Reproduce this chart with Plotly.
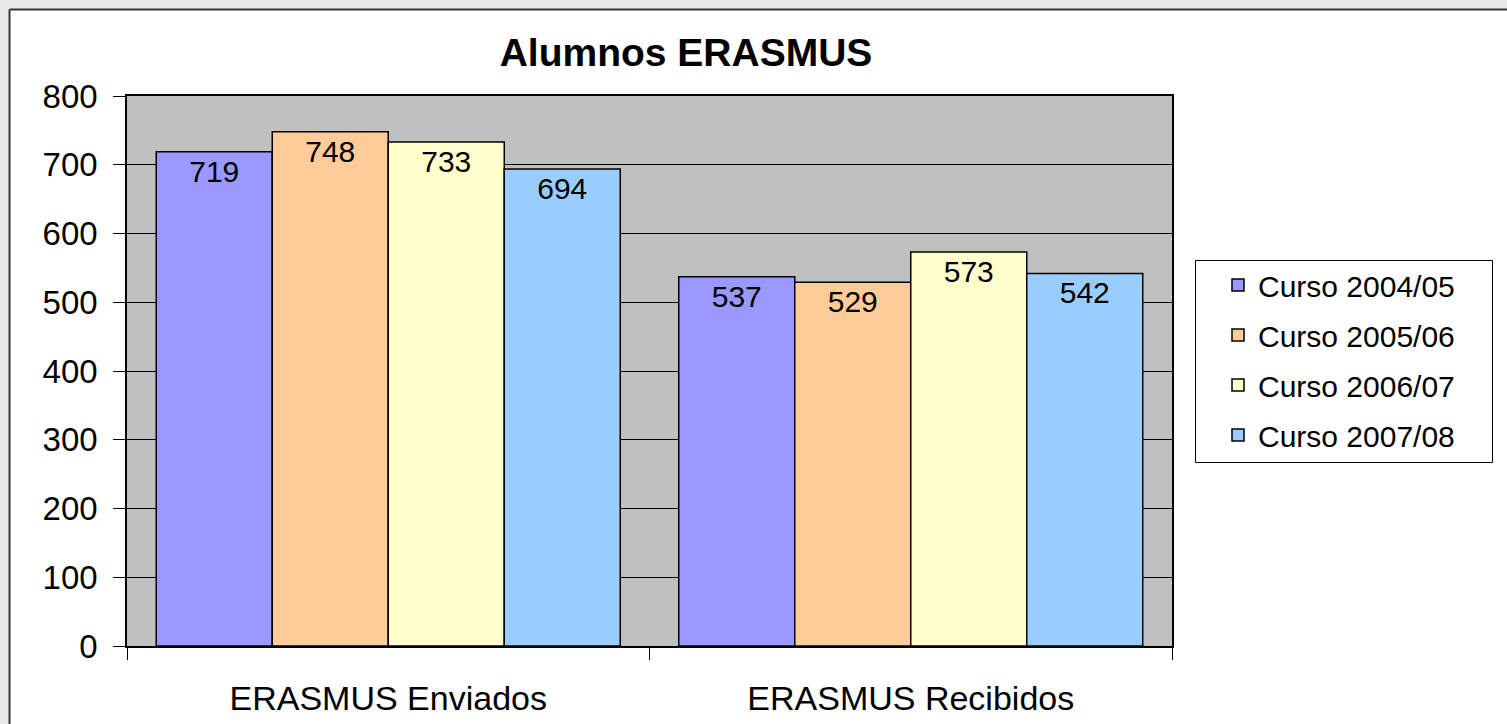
import plotly.graph_objects as go

categories = ["ERASMUS Enviados", "ERASMUS Recibidos"]
series_names = ["Curso 2004/05", "Curso 2005/06", "Curso 2006/07", "Curso 2007/08"]
curso_2004_05 = [719, 537]
curso_2005_06 = [748, 529]
curso_2006_07 = [733, 573]
curso_2007_08 = [694, 542]
series_values = [curso_2004_05, curso_2005_06, curso_2006_07, curso_2007_08]
colors = ["#9999FF", "#FFCC99", "#FFFFCC", "#99CCFF"]
y_ticks = [0, 100, 200, 300, 400, 500, 600, 700, 800]

W, H = 1507, 724
L, R, T, B = 127, W - 1172, 96, H - 646
PW, PH = W - L - R, H - T - B

def px_x(p):
    return (p - L) / PW

def px_y(p):
    return (H - B - p) / PH

FONT = "Liberation Sans, Arial, sans-serif"

fig = go.Figure()
for i, (name, vals, col) in enumerate(zip(series_names, series_values, colors)):
    fig.add_trace(go.Bar(
        name=name, x=categories, y=vals,
        marker=dict(color=col, line=dict(color="#000000", width=1.5)),
        text=[str(v) for v in vals], textposition="inside", insidetextanchor="end",
        textangle=0,
        textfont=dict(family=FONT, size=30, color="#000000"),
        legendgroup=f"g{i}",
    ))

shapes = [
    # outer light-grey strips (left & top) and dark frame line
    dict(type="rect", xref="paper", yref="paper", x0=px_x(-5), x1=px_x(8.5), y0=px_y(H + 5), y1=px_y(-5),
         fillcolor="#e9e9e9", line=dict(width=0), layer="above"),
    dict(type="rect", xref="paper", yref="paper", x0=px_x(-5), x1=px_x(W + 5), y0=px_y(8.5), y1=px_y(-5),
         fillcolor="#e9e9e9", line=dict(width=0), layer="above"),
    dict(type="line", xref="paper", yref="paper", x0=px_x(9.5), x1=px_x(9.5), y0=px_y(9.5), y1=px_y(H + 5),
         line=dict(color="#333333", width=2), layer="above"),
    dict(type="line", xref="paper", yref="paper", x0=px_x(9.5), x1=px_x(W + 5), y0=px_y(9.5), y1=px_y(9.5),
         line=dict(color="#333333", width=2), layer="above"),
    # legend frame
    dict(type="rect", xref="paper", yref="paper", x0=px_x(1195.5), x1=px_x(1492.5), y0=px_y(462.5), y1=px_y(260.5),
         fillcolor="#ffffff", line=dict(color="#000000", width=1), layer="below"),
]

fig.update_layout(
    width=W, height=H,
    margin=dict(l=L, r=R, t=T, b=B, autoexpand=False),
    paper_bgcolor="#ffffff", plot_bgcolor="#c0c0c0",
    barmode="group", bargap=0.112, bargroupgap=0,
    font=dict(family=FONT, color="#000000"),
    title=dict(text="<b>Alumnos ERASMUS</b>", xref="container", yref="container",
               x=686 / W, y=1 - 52 / H, xanchor="center", yanchor="middle",
               font=dict(family=FONT, size=39, color="#000000")),
    legend=dict(x=px_x(1218), y=px_y(259), xanchor="left", yanchor="top",
                bgcolor="rgba(0,0,0,0)", borderwidth=0,
                font=dict(family=FONT, size=30, color="#000000"),
                tracegroupgap=8, traceorder="grouped"),
    showlegend=True,
    shapes=shapes,
    xaxis=dict(type="category", showgrid=False, showline=True, linecolor="#000000", linewidth=1.5,
               mirror=True, ticks="outside", ticklen=12, tickcolor="#000000", tickwidth=1,
               tickson="boundaries", ticklabelstandoff=21,
               tickfont=dict(family=FONT, size=34, color="#000000")),
    yaxis=dict(range=[0, 800], tickvals=y_ticks, showgrid=True, gridcolor="#000000", gridwidth=1,
               showline=True, linecolor="#000000", linewidth=1.5, mirror=True,
               ticks="outside", ticklen=12, tickcolor="#000000", tickwidth=1,
               ticklabelstandoff=9, zeroline=False,
               tickfont=dict(family=FONT, size=33, color="#000000")),
)

fig.write_html("out.html", config={"displayModeBar": False},
               post_script="document.body.style.margin='0';")
